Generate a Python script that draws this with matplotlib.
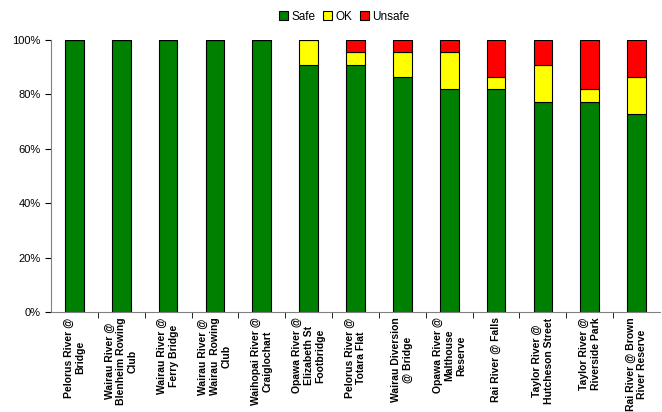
import numpy as np
from matplotlib import pyplot as plt
from matplotlib.ticker import FixedLocator, PercentFormatter

plt.rcParams['font.family'] = ['Liberation Sans', 'DejaVu Sans']

sites = ["Pelorus River @\nBridge", "Wairau River @\nBlenheim Rowing\nClub",
         "Wairau River @\nFerry Bridge", "Wairau River @\nWairau  Rowing\nClub",
         "Waihopai River @\nCraiglochart", "Opawa River @\nElizabeth St\nFootbridge",
         "Pelorus River @\nTotara Flat", "Wairau Diversion\n@ Bridge",
         "Opawa River @\nMalthouse\nReserve", "Rai River @ Falls",
         "Taylor River @\nHutcheson Street", "Taylor River @\nRiverside Park",
         "Rai River @ Brown\nRiver Reserve"]
safe = [100, 100, 100, 100, 100, 90.9, 90.9, 86.4, 81.8, 81.8, 77.3, 77.3, 72.7]
ok = [0, 0, 0, 0, 0, 9.1, 4.5, 9.1, 13.6, 4.5, 13.6, 4.5, 13.6]
unsafe = [0, 0, 0, 0, 0, 0, 4.5, 4.5, 4.5, 13.6, 9.1, 18.2, 13.6]

fig = plt.figure(figsize=(6.62, 4.12), dpi=100)
ax = fig.add_axes([0.077, 0.243, 0.92, 0.66])

x = np.arange(len(sites))
safe = np.array(safe)
ok = np.array(ok)
unsafe = np.array(unsafe)
w = 0.4
ax.bar(x, safe, w, color='#008000', edgecolor='black', linewidth=0.8, label='Safe')
ax.bar(x, ok, w, bottom=safe, color='#FFFF00', edgecolor='black', linewidth=0.8, label='OK')
ax.bar(x, unsafe, w, bottom=safe + ok, color='#FF0000', edgecolor='black', linewidth=0.8, label='Unsafe')

ax.set_xlim(-0.5, len(sites) - 0.5)
ax.set_ylim(0, 100)
ax.set_yticks(range(0, 101, 20))
ax.yaxis.set_major_formatter(PercentFormatter(decimals=0))
ax.tick_params(axis='y', labelsize=8, direction='out', length=4)

ax.set_xticks(x)
ax.set_xticklabels(sites, rotation=90, fontsize=7.5, fontweight='bold', va='top', ha='center')
ax.tick_params(axis='x', which='major', length=0, pad=4)
ax.xaxis.set_minor_locator(FixedLocator(np.arange(0.5, len(sites) - 0.5, 1)))
ax.tick_params(axis='x', which='minor', length=4, direction='out')

ax.spines['top'].set_visible(False)
ax.spines['right'].set_visible(False)
ax.spines['left'].set_color('#808080')
ax.spines['bottom'].set_color('#808080')

fig.legend(loc='upper center', bbox_to_anchor=(0.52, 1.0), ncol=3, fontsize=8.5,
           frameon=False, handlelength=0.8, handleheight=0.8, handletextpad=0.3,
           columnspacing=0.6)

fig.savefig('out.png', dpi=100)
